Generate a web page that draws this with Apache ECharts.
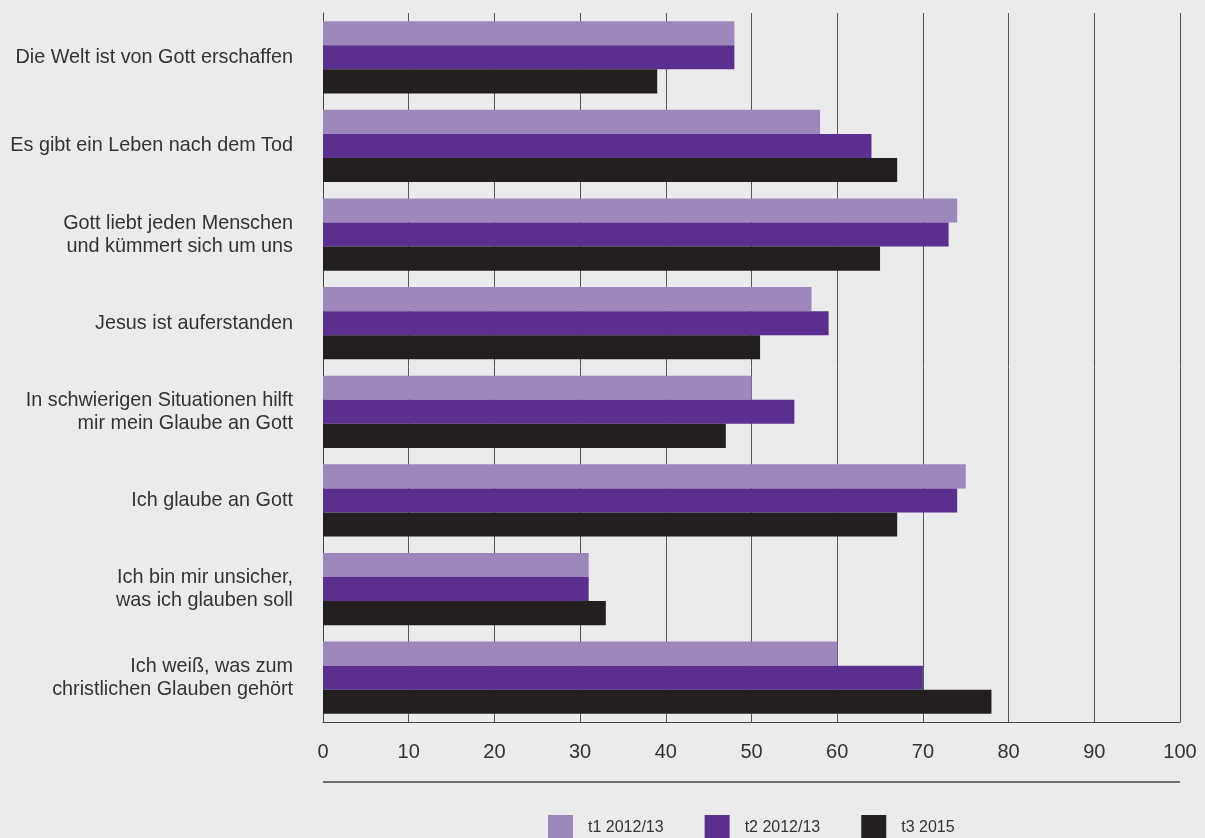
<!DOCTYPE html>
<html><head><meta charset="utf-8">
<script src="https://cdn.jsdelivr.net/npm/echarts@6/dist/echarts.min.js"></script>
<style>html,body{margin:0;padding:0;background:#ebeaed;}#c{width:1205px;height:838px;}</style>
</head><body><div id="c"></div>
<script>
const categories = [
  "Die Welt ist von Gott erschaffen",
  "Es gibt ein Leben nach dem Tod",
  "Gott liebt jeden Menschen\nund kümmert sich um uns",
  "Jesus ist auferstanden",
  "In schwierigen Situationen hilft\nmir mein Glaube an Gott",
  "Ich glaube an Gott",
  "Ich bin mir unsicher,\nwas ich glauben soll",
  "Ich weiß, was zum\nchristlichen Glauben gehört"
];
const seriesNames = ["t1 2012/13", "t2 2012/13", "t3 2015"];
const t1 = [48, 58, 74, 57, 50, 75, 31, 60];
const t2 = [48, 64, 73, 59, 55, 74, 31, 70];
const t3 = [39, 67, 65, 51, 47, 67, 33, 78];
const colors = ["#9d87bd", "#5b2f8f", "#231f20"];

const chart = echarts.init(document.getElementById('c'), null, {renderer: 'canvas'});
const font = "'Liberation Sans', Arial, sans-serif";
const data = [t1, t2, t3];
chart.setOption({
  backgroundColor: '#ebeaed',
  animation: false,
  grid: {left: 323, right: 25, top: 13, height: 709, containLabel: false},
  legend: {
    top: 815, left: 548, padding: 0,
    itemWidth: 25, itemHeight: 25, itemGap: 41,
    icon: 'rect',
    textStyle: {fontFamily: font, fontSize: 16, color: '#333', padding: [0, 0, 0, 10]},
    data: seriesNames
  },
  xAxis: {
    type: 'value', min: 0, max: 100, interval: 10,
    axisLine: {show: true, lineStyle: {color: '#444', width: 1}},
    axisTick: {show: false},
    splitLine: {show: true, lineStyle: {color: '#555', width: 1}},
    axisLabel: {fontFamily: font, fontSize: 20, color: '#333', margin: 20}
  },
  yAxis: {
    type: 'category', inverse: true, data: categories,
    axisLine: {show: true, lineStyle: {color: '#444', width: 1}},
    axisTick: {show: false},
    axisLabel: {fontFamily: font, fontSize: 19.8, color: '#333', margin: 30, lineHeight: 23, align: 'right', padding: [4, 0, 0, 0]}
  },
  graphic: [{
    type: 'line', shape: {x1: 323, y1: 782, x2: 1180, y2: 782},
    style: {stroke: '#444', lineWidth: 1.5}
  }],
  series: seriesNames.map((n, i) => ({
    name: n, type: 'bar', data: data[i],
    barGap: '0%', barCategoryGap: '18.6%',
    itemStyle: {color: colors[i]}
  }))
});
</script></body></html>
